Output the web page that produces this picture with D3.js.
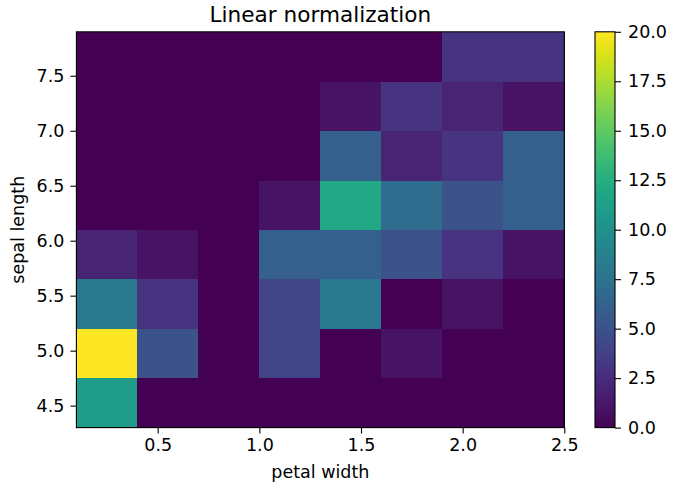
<!DOCTYPE html>
<html>
<head>
<meta charset="utf-8">
<script src="https://cdn.jsdelivr.net/npm/d3@7"></script>
<style>
  html, body { margin: 0; padding: 0; background: #fff; }
  svg text { font-family: "DejaVu Sans", sans-serif; fill: #000; }
</style>
</head>
<body>
<svg id="chart" width="693" height="489"></svg>
<script>
// ---- data ----
const petalWidthEdges = [0.1, 0.4, 0.7, 1.0, 1.3, 1.6, 1.9, 2.2, 2.5];
const sepalLengthEdges = [4.3, 4.75, 5.2, 5.65, 6.1, 6.55, 7.0, 7.45, 7.9];
// counts: one row per sepal-length bin (bottom to top), columns = petal-width bins
const row_4_30 = [11, 0, 0, 0, 0, 0, 0, 0];
const row_4_75 = [20, 5, 0, 4, 0, 1, 0, 0];
const row_5_20 = [8, 3, 0, 4, 8, 0, 1, 0];
const row_5_65 = [2, 1, 0, 6, 6, 5, 3, 1];
const row_6_10 = [0, 0, 0, 1, 12, 7, 5, 6];
const row_6_55 = [0, 0, 0, 0, 6, 2, 3, 6];
const row_7_00 = [0, 0, 0, 0, 1, 3, 2, 1];
const row_7_45 = [0, 0, 0, 0, 0, 0, 3, 3];
const counts = [row_4_30, row_4_75, row_5_20, row_5_65, row_6_10, row_6_55, row_7_00, row_7_45];
const xTicks = [0.5, 1.0, 1.5, 2.0, 2.5];
const yTicks = [4.5, 5.0, 5.5, 6.0, 6.5, 7.0, 7.5];
const cbarTicks = [0, 2.5, 5, 7.5, 10, 12.5, 15, 17.5, 20];
const colorDomain = [0, 20];
const titleText = "Linear normalization";
const xLabel = "petal width";
const yLabel = "sepal length";

// ---- layout ----
const plot = { left: 76.4, right: 564.3, top: 31.8, bottom: 427.6 };
const cbar = { left: 595, right: 615, top: 31.8, bottom: 427.6 };
const tickFont = 17.5;

const svg = d3.select("#chart");

const x = d3.scaleLinear().domain([petalWidthEdges[0], petalWidthEdges[petalWidthEdges.length - 1]])
  .range([plot.left, plot.right]);
const y = d3.scaleLinear().domain([sepalLengthEdges[0], sepalLengthEdges[sepalLengthEdges.length - 1]])
  .range([plot.bottom, plot.top]);
const color = d3.scaleSequential(d3.interpolateViridis).domain(colorDomain);

// cells
const cells = [];
counts.forEach((row, j) => row.forEach((v, i) => cells.push({ i, j, v })));
svg.append("g").selectAll("rect").data(cells).join("rect")
  .attr("x", d => x(petalWidthEdges[d.i]))
  .attr("y", d => y(sepalLengthEdges[d.j + 1]))
  .attr("width", d => x(petalWidthEdges[d.i + 1]) - x(petalWidthEdges[d.i]) + 0.3)
  .attr("height", d => y(sepalLengthEdges[d.j]) - y(sepalLengthEdges[d.j + 1]) + 0.3)
  .attr("fill", d => color(d.v))
  .attr("shape-rendering", "crispEdges");

// axes
function styleAxis(g) {
  g.select(".domain").remove();
  g.selectAll(".tick line").attr("stroke", "#000").attr("stroke-width", 1.1);
  g.selectAll(".tick text").attr("font-size", tickFont).attr("font-family", "DejaVu Sans").attr("fill", "#000");
}
svg.append("g").attr("transform", `translate(0,${plot.bottom})`)
  .call(d3.axisBottom(x).tickValues(xTicks).tickFormat(d3.format(".1f")).tickSizeOuter(0).tickSize(6).tickPadding(5))
  .call(styleAxis);
svg.append("g").attr("transform", `translate(${plot.left},0)`)
  .call(d3.axisLeft(y).tickValues(yTicks).tickFormat(d3.format(".1f")).tickSizeOuter(0).tickSize(6).tickPadding(6))
  .call(styleAxis);

// frame
svg.append("rect")
  .attr("x", plot.left).attr("y", plot.top)
  .attr("width", plot.right - plot.left).attr("height", plot.bottom - plot.top)
  .attr("fill", "none").attr("stroke", "#000").attr("stroke-width", 1.1);

// title & labels
svg.append("text").attr("x", (plot.left + plot.right) / 2).attr("y", 22)
  .attr("text-anchor", "middle").attr("font-size", 21.6).text(titleText);
svg.append("text").attr("x", (plot.left + plot.right) / 2).attr("y", 478)
  .attr("text-anchor", "middle").attr("font-size", tickFont).text(xLabel);
svg.append("text")
  .attr("transform", `translate(23.5,${(plot.top + plot.bottom) / 2}) rotate(-90)`)
  .attr("text-anchor", "middle").attr("font-size", tickFont).text(yLabel);

// colorbar
const cy = d3.scaleLinear().domain(colorDomain).range([cbar.bottom, cbar.top]);
const defs = svg.append("defs");
const grad = defs.append("linearGradient").attr("id", "vgrad")
  .attr("x1", "0").attr("y1", "1").attr("x2", "0").attr("y2", "0");
d3.range(0, 1.0001, 0.02).forEach(t => {
  grad.append("stop").attr("offset", t).attr("stop-color", d3.interpolateViridis(t));
});
svg.append("rect").attr("x", cbar.left).attr("y", cbar.top)
  .attr("width", cbar.right - cbar.left).attr("height", cbar.bottom - cbar.top)
  .attr("fill", "url(#vgrad)");
svg.append("g").attr("transform", `translate(${cbar.right},0)`)
  .call(d3.axisRight(cy).tickValues(cbarTicks).tickFormat(d3.format(".1f")).tickSizeOuter(0).tickSize(6).tickPadding(7))
  .call(styleAxis);
svg.append("rect").attr("x", cbar.left).attr("y", cbar.top)
  .attr("width", cbar.right - cbar.left).attr("height", cbar.bottom - cbar.top)
  .attr("fill", "none").attr("stroke", "#000").attr("stroke-width", 1.1);
</script>
</body>
</html>
